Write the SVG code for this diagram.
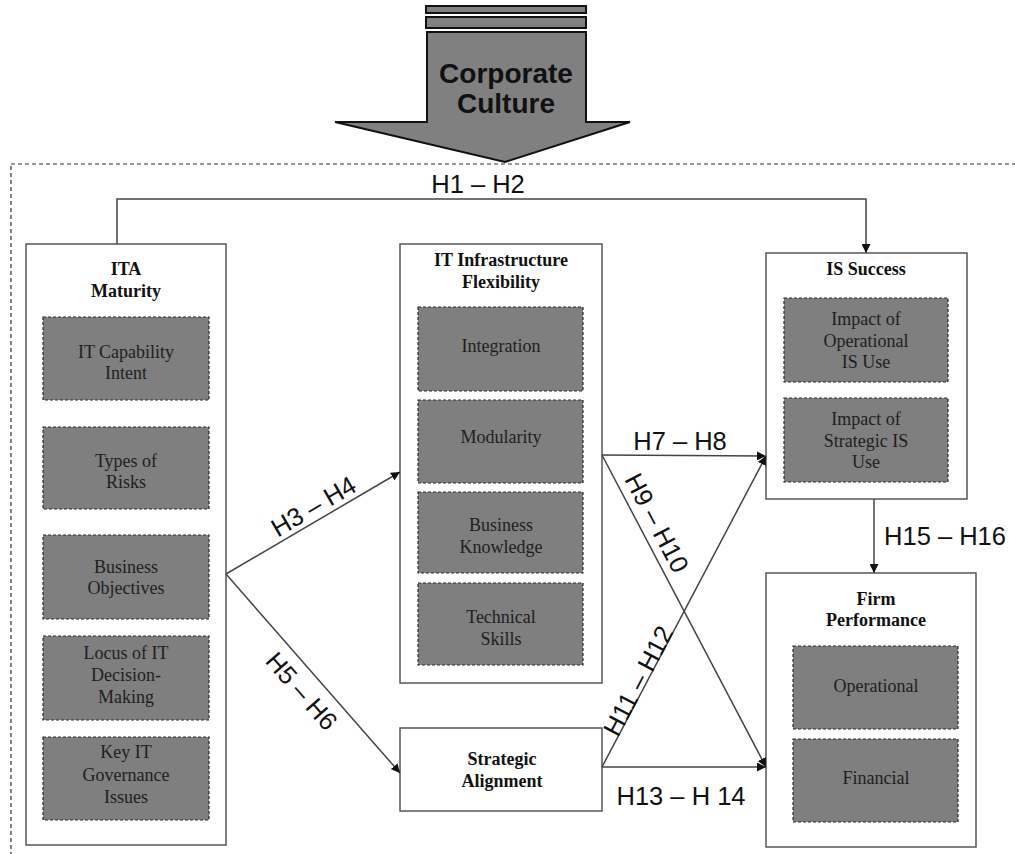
<svg xmlns="http://www.w3.org/2000/svg" width="1015" height="854" viewBox="0 0 1015 854">
  <defs>
    <marker id="ah" viewBox="0 0 10 10" refX="10" refY="5" markerWidth="9" markerHeight="9" markerUnits="userSpaceOnUse" orient="auto">
      <path d="M0,0 L10,5 L0,10 z" fill="#111"/>
    </marker>
    <style>
      .box { fill: #fff; stroke: #555; stroke-width: 1.5; }
      .sub { fill: #7f7f7f; stroke: #2a2a2a; stroke-width: 1.2; stroke-dasharray: 3 2; }
      .title { font-family: "Liberation Serif", "Times New Roman", serif; font-weight: bold; font-size: 18px; fill: #111; text-anchor: middle; }
      .item { font-family: "Liberation Serif", "Times New Roman", serif; font-size: 18px; fill: #1e1e1e; text-anchor: middle; }
      .hyp { font-family: "Liberation Sans", Arial, sans-serif; font-size: 25.5px; fill: #111; text-anchor: middle; }
      .conn { fill: none; stroke: #444; stroke-width: 1.5; }
      .frame { fill: none; stroke: #333; stroke-width: 1.2; stroke-dasharray: 4 3; }
    </style>
  </defs>

  <rect width="1015" height="854" fill="#fff"/>

  <!-- dashed boundary of the research model -->
  <rect class="frame" x="11" y="164" width="1100" height="800"/>

  <!-- corporate culture block arrow -->
  <g id="corporate-culture">
    <rect x="426" y="6" width="160" height="7" fill="#808080" stroke="#111" stroke-width="2"/>
    <rect x="426" y="17" width="160" height="11" fill="#808080" stroke="#111" stroke-width="2"/>
    <path d="M427,32 L586,32 L586,122 L630,122 L505,162 L335,122 L427,122 Z" fill="#808080" stroke="#111" stroke-width="2" stroke-linejoin="miter"/>
    <text x="506" y="83" font-family="Liberation Sans, Arial, sans-serif" font-weight="bold" font-size="28" fill="#111" text-anchor="middle">Corporate</text>
    <text x="506" y="113" font-family="Liberation Sans, Arial, sans-serif" font-weight="bold" font-size="28" fill="#111" text-anchor="middle">Culture</text>
  </g>

  <!-- ITA maturity -->
  <g id="ita-maturity">
    <rect class="box" x="26" y="244" width="200" height="601"/>
    <text class="title" x="126" y="275">ITA</text>
    <text class="title" x="126" y="297">Maturity</text>
    <rect class="sub" x="43" y="317" width="166" height="83"/>
    <text class="item" x="126" y="358">IT Capability</text>
    <text class="item" x="126" y="379">Intent</text>
    <rect class="sub" x="43" y="427" width="166" height="82"/>
    <text class="item" x="126" y="467">Types of</text>
    <text class="item" x="126" y="488">Risks</text>
    <rect class="sub" x="43" y="535" width="166" height="84"/>
    <text class="item" x="126" y="573">Business</text>
    <text class="item" x="126" y="594">Objectives</text>
    <rect class="sub" x="43" y="636" width="166" height="84"/>
    <text class="item" x="126" y="659">Locus of IT</text>
    <text class="item" x="126" y="681">Decision-</text>
    <text class="item" x="126" y="703">Making</text>
    <rect class="sub" x="43" y="737" width="166" height="83"/>
    <text class="item" x="126" y="758">Key IT</text>
    <text class="item" x="126" y="781">Governance</text>
    <text class="item" x="126" y="803">Issues</text>
  </g>

  <!-- IT infrastructure flexibility -->
  <g id="it-infrastructure-flexibility">
    <rect class="box" x="400" y="244" width="202" height="439"/>
    <text class="title" x="501" y="266">IT Infrastructure</text>
    <text class="title" x="501" y="288">Flexibility</text>
    <rect class="sub" x="418" y="307" width="165" height="84"/>
    <text class="item" x="501" y="352">Integration</text>
    <rect class="sub" x="418" y="400" width="165" height="83"/>
    <text class="item" x="501" y="443">Modularity</text>
    <rect class="sub" x="418" y="492" width="165" height="81"/>
    <text class="item" x="501" y="531">Business</text>
    <text class="item" x="501" y="553">Knowledge</text>
    <rect class="sub" x="418" y="583" width="165" height="82"/>
    <text class="item" x="501" y="623">Technical</text>
    <text class="item" x="501" y="645">Skills</text>
  </g>

  <!-- strategic alignment -->
  <g id="strategic-alignment">
    <rect class="box" x="400" y="728" width="202" height="83"/>
    <text class="title" x="502" y="765">Strategic</text>
    <text class="title" x="502" y="787">Alignment</text>
  </g>

  <!-- IS success -->
  <g id="is-success">
    <rect class="box" x="766" y="253" width="201" height="246"/>
    <text class="title" x="866" y="275">IS Success</text>
    <rect class="sub" x="784" y="298" width="164" height="84"/>
    <text class="item" x="866" y="325">Impact of</text>
    <text class="item" x="866" y="347">Operational</text>
    <text class="item" x="866" y="368">IS Use</text>
    <rect class="sub" x="784" y="398" width="164" height="84"/>
    <text class="item" x="866" y="425">Impact of</text>
    <text class="item" x="866" y="447">Strategic IS</text>
    <text class="item" x="866" y="468">Use</text>
  </g>

  <!-- firm performance -->
  <g id="firm-performance">
    <rect class="box" x="766" y="573" width="210" height="274"/>
    <text class="title" x="876" y="605">Firm</text>
    <text class="title" x="876" y="626">Performance</text>
    <rect class="sub" x="793" y="646" width="165" height="83"/>
    <text class="item" x="876" y="692">Operational</text>
    <rect class="sub" x="793" y="739" width="165" height="83"/>
    <text class="item" x="876" y="784">Financial</text>
  </g>

  <!-- hypothesised paths -->
  <g id="connectors">
    <path class="conn" d="M117,244 V199 H866 V253" marker-end="url(#ah)"/>
    <text class="hyp" x="478" y="193">H1 – H2</text>

    <line class="conn" x1="226" y1="574" x2="400" y2="472" marker-end="url(#ah)"/>
    <text class="hyp" transform="translate(318,514) rotate(-30.4)">H3 – H4</text>

    <line class="conn" x1="226" y1="574" x2="400" y2="773" marker-end="url(#ah)"/>
    <text class="hyp" transform="translate(295,697) rotate(48.8)">H5 – H6</text>

    <line class="conn" x1="602" y1="455" x2="766" y2="456" marker-end="url(#ah)"/>
    <text class="hyp" x="680" y="450">H7 – H8</text>

    <line class="conn" x1="602" y1="455" x2="766" y2="767" marker-end="url(#ah)"/>
    <text class="hyp" transform="translate(649,527) rotate(62.3)">H9 – H10</text>

    <line class="conn" x1="602" y1="767" x2="766" y2="456" marker-end="url(#ah)"/>
    <text class="hyp" transform="translate(646,685) rotate(-62.2)">H11 – H12</text>

    <line class="conn" x1="602" y1="767" x2="766" y2="767" marker-end="url(#ah)"/>
    <text class="hyp" x="681" y="805">H13 – H 14</text>

    <line class="conn" x1="874" y1="499" x2="874" y2="573" marker-end="url(#ah)"/>
    <text class="hyp" x="945" y="545">H15 – H16</text>
  </g>
</svg>
